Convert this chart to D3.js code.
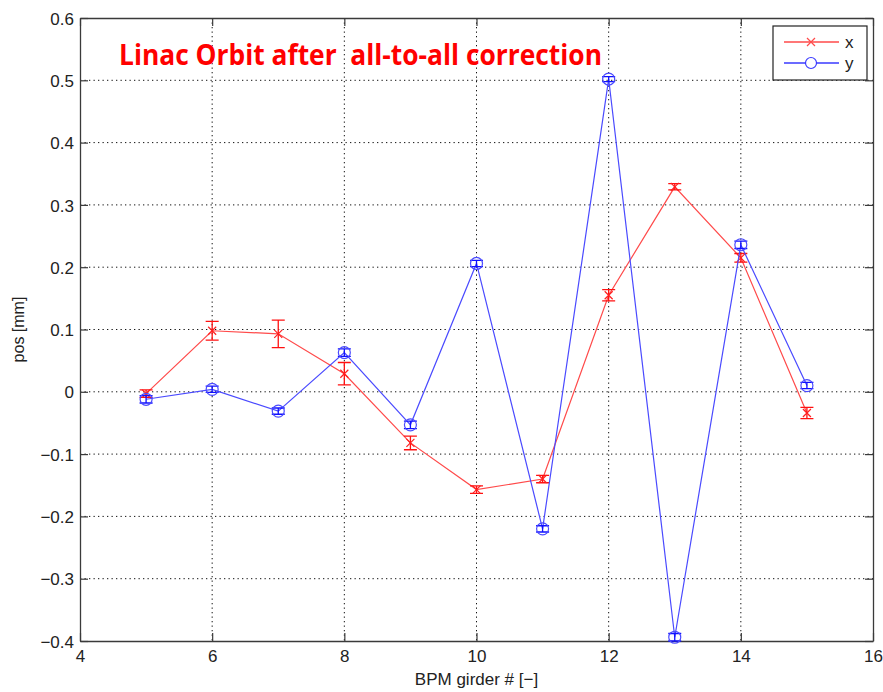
<!DOCTYPE html>
<html>
<head>
<meta charset="utf-8">
<script src="https://cdn.jsdelivr.net/npm/d3@7"></script>
<style>
  html, body { margin: 0; padding: 0; background: #fff; }
  svg { display: block; }
</style>
</head>
<body>
<svg id="chart" width="883" height="692"></svg>
<script>
// ---- data ----
const girders = [5, 6, 7, 8, 9, 10, 11, 12, 13, 14, 15];
const xPos = [-0.003, 0.098, 0.093, 0.029, -0.082, -0.157, -0.140, 0.155, 0.329, 0.215, -0.034];
const xErr = [0.006, 0.015, 0.022, 0.018, 0.011, 0.006, 0.006, 0.009, 0.005, 0.007, 0.009];
const yPos = [-0.012, 0.004, -0.031, 0.063, -0.053, 0.206, -0.220, 0.502, -0.394, 0.236, 0.010];
const yErr = [0.006, 0.005, 0.005, 0.006, 0.006, 0.005, 0.005, 0.004, 0.006, 0.006, 0.005];
const xTicks = [4, 6, 8, 10, 12, 14, 16];
const xTickLabels = ["4", "6", "8", "10", "12", "14", "16"];
const yTicks = [-0.4, -0.3, -0.2, -0.1, 0, 0.1, 0.2, 0.3, 0.4, 0.5, 0.6];
const yTickLabels = ["\u22120.4", "\u22120.3", "\u22120.2", "\u22120.1", "0", "0.1", "0.2", "0.3", "0.4", "0.5", "0.6"];
const seriesNames = ["x", "y"];
const titleText = "Linac Orbit after\u00a0 all-to-all correction";
const xLabel = "BPM girder # [\u2212]";
const yLabel = "pos [mm]";

// ---- layout ----
const L = 80, R = 873, T = 18, B = 641;
const svg = d3.select("#chart");
const x = d3.scaleLinear().domain([4, 16]).range([L, R]);
const y = d3.scaleLinear().domain([-0.4, 0.6]).range([B, T]);

const axisColor = "#3a3a3a";
const tickFont = "'Liberation Sans', Arial, sans-serif";

// grid
const grid = svg.append("g");
grid.selectAll("line.vg").data(xTicks.slice(1, -1)).join("line")
  .attr("x1", d => x(d)).attr("x2", d => x(d)).attr("y1", T).attr("y2", B)
  .attr("stroke", "#111").attr("stroke-width", 1).attr("stroke-dasharray", "1.3,3.2");
grid.selectAll("line.hg").data(yTicks.slice(1, -1)).join("line")
  .attr("y1", d => y(d)).attr("y2", d => y(d)).attr("x1", L).attr("x2", R)
  .attr("stroke", "#111").attr("stroke-width", 1).attr("stroke-dasharray", "1.3,3.2");

// axes (inward ticks on all four sides)
const tickLen = 8;
const axB = svg.append("g").attr("transform", `translate(0,${B})`)
  .call(d3.axisBottom(x).tickValues(xTicks).tickFormat((d, i) => xTickLabels[i]).tickSizeInner(-tickLen).tickSizeOuter(0).tickPadding(9));
const axT = svg.append("g").attr("transform", `translate(0,${T})`)
  .call(d3.axisTop(x).tickValues(xTicks).tickFormat("").tickSizeInner(-tickLen).tickSizeOuter(0));
const axL = svg.append("g").attr("transform", `translate(${L},0)`)
  .call(d3.axisLeft(y).tickValues(yTicks).tickFormat((d, i) => yTickLabels[i]).tickSizeInner(-tickLen).tickSizeOuter(0).tickPadding(6));
const axR = svg.append("g").attr("transform", `translate(${R},0)`)
  .call(d3.axisRight(y).tickValues(yTicks).tickFormat("").tickSizeInner(-tickLen).tickSizeOuter(0));
[axB, axT, axL, axR].forEach(a => {
  a.select(".domain").attr("stroke", axisColor).attr("stroke-width", 1.3);
  a.selectAll(".tick line").attr("stroke", axisColor).attr("stroke-width", 1.2);
  a.selectAll("text").attr("font-family", tickFont).attr("font-size", 17).attr("fill", "#222");
});
axL.selectAll("text").attr("dy", "0.36em");

// axis labels
svg.append("text").attr("x", (L + R) / 2).attr("y", 685)
  .attr("text-anchor", "middle").attr("font-family", tickFont).attr("font-size", 17).attr("fill", "#222")
  .text(xLabel);
svg.append("text").attr("transform", `translate(24,${(T + B) / 2}) rotate(-90)`)
  .attr("text-anchor", "middle").attr("font-family", tickFont).attr("font-size", 16).attr("fill", "#222")
  .text(yLabel);

// series
const xData = girders.map((g, i) => ({ g, v: xPos[i], e: xErr[i] }));
const yData = girders.map((g, i) => ({ g, v: yPos[i], e: yErr[i] }));
const line = d3.line().x(d => x(d.g)).y(d => y(d.v));
const capW = 6.5;

function errorBars(data, color) {
  const g = svg.append("g").attr("stroke", color).attr("stroke-width", 1.3).attr("fill", "none");
  g.selectAll("path").data(data).join("path")
    .attr("d", d => {
      const cx = x(d.g), y1 = y(d.v + d.e), y2 = y(d.v - d.e);
      return `M${cx - capW},${y1}H${cx + capW}M${cx - capW},${y2}H${cx + capW}M${cx},${y1}V${y2}`;
    });
}

// x series (red)
svg.append("path").datum(xData).attr("d", line)
  .attr("fill", "none").attr("stroke", "#ff4a4a").attr("stroke-width", 1.2);
errorBars(xData, "#ff1010");
svg.append("g").selectAll("path").data(xData).join("path")
  .attr("d", d => { const cx = x(d.g), cy = y(d.v), s = 4; return `M${cx - s},${cy - s}L${cx + s},${cy + s}M${cx - s},${cy + s}L${cx + s},${cy - s}`; })
  .attr("stroke", "#ff2020").attr("stroke-width", 1.2).attr("fill", "none");

// y series (blue)
svg.append("path").datum(yData).attr("d", line)
  .attr("fill", "none").attr("stroke", "#4a4aff").attr("stroke-width", 1.2);
errorBars(yData, "#1010ff");
svg.append("g").selectAll("circle").data(yData).join("circle")
  .attr("cx", d => x(d.g)).attr("cy", d => y(d.v)).attr("r", 6)
  .attr("fill", "none").attr("stroke", "#4a4aff").attr("stroke-width", 1.2);

// legend
const lg = svg.append("g");
lg.append("rect").attr("x", 773).attr("y", 26).attr("width", 94).attr("height", 54)
  .attr("fill", "#fff").attr("stroke", "#222").attr("stroke-width", 1.2);
const legColors = ["#ff4a4a", "#3a3aff"];
const legY = [42, 63];
seriesNames.forEach((n, i) => {
  lg.append("line").attr("x1", 784).attr("x2", 839).attr("y1", legY[i]).attr("y2", legY[i])
    .attr("stroke", legColors[i]).attr("stroke-width", 1.3);
  if (i === 0) {
    const s = 4, cx = 811, cy = legY[i];
    lg.append("path").attr("d", `M${cx - s},${cy - s}L${cx + s},${cy + s}M${cx - s},${cy + s}L${cx + s},${cy - s}`)
      .attr("stroke", legColors[i]).attr("stroke-width", 1.2);
  } else {
    lg.append("circle").attr("cx", 811).attr("cy", legY[i]).attr("r", 5.5)
      .attr("fill", "#fff").attr("stroke", legColors[i]).attr("stroke-width", 1.2);
  }
  lg.append("text").attr("x", 845).attr("y", legY[i] + 6).attr("font-family", tickFont)
    .attr("font-size", 17).attr("fill", "#222").text(n);
});

// title annotation
svg.append("text").attr("x", 119).attr("y", 65)
  .attr("font-family", "'Open Sans', sans-serif").attr("font-weight", 700).attr("font-size", 29)
  .attr("fill", "#ff0000").attr("textLength", 483).attr("lengthAdjust", "spacingAndGlyphs")
  .text(titleText);
</script>
</body>
</html>
